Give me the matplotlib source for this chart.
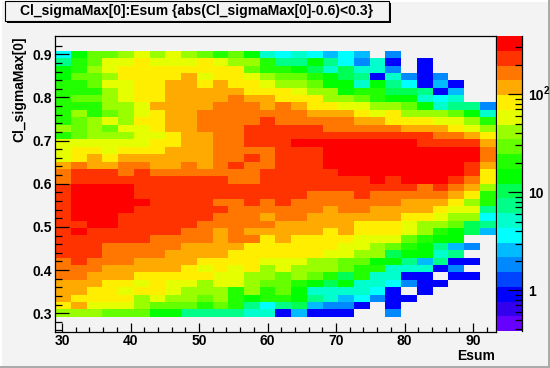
import numpy as np
import matplotlib
matplotlib.use('Agg')
import matplotlib.pyplot as plt
from matplotlib.colors import ListedColormap, BoundaryNorm
from matplotlib.patches import Rectangle
from matplotlib.ticker import FixedLocator, NullFormatter

plt.rcParams['font.family'] = ['Liberation Sans', 'DejaVu Sans']
plt.rcParams['font.weight'] = 'bold'

W, H = 550, 368
BG = '#f3f3f3'

# histogram range (28 x 40 bins, the outer rows stay empty)
x_range = (29.02, 93.28)
y_range = (0.2575, 0.9425)
n_xbins = 28
n_ybins = 40

# palette bands, low to high
band_colors = ['#6600ff', '#3300ee', '#0000ff', '#0044ff', '#0088ff', '#00bbff', '#00ffff',
               '#00ffcc', '#00ff88', '#00ff55', '#00ff00', '#22ff00', '#66ff00', '#99ff00',
               '#e5ff00', '#ffee00', '#ffaa00', '#ff7700', '#ff3300', '#ff0000']
z_min, z_max = 0.384, 393

# bin contents, top row first
counts = [
    [4,15,30,30,42,58,42,58,42,30,21,30,15,5,4,5,4,3,4,3,0,2,0,0,0,0,0,0],
    [8,21,30,58,58,82,58,58,58,82,58,42,42,21,8,8,15,8,4,2,5,1,0,1,0,0,0,0],
    [15,21,42,58,82,82,82,82,82,82,82,82,30,21,21,15,10,5,10,5,5,2,0,1,0,0,0,0],
    [15,30,30,42,82,82,82,82,116,58,82,82,58,42,30,30,21,15,10,8,1,5,2,1,2,0,0,0],
    [21,21,30,58,58,82,82,116,116,82,116,82,82,58,42,42,30,15,15,5,15,8,4,1,3,1,0,0],
    [21,21,21,42,58,82,82,116,116,116,116,116,82,82,82,58,42,42,15,21,21,10,10,8,1,3,0,0],
    [21,30,30,42,58,82,82,116,116,116,116,165,116,116,82,82,82,42,42,30,21,15,15,5,4,5,0,0],
    [21,21,21,42,42,58,116,116,116,116,165,165,165,116,165,116,82,82,58,58,42,42,30,15,5,8,8,2],
    [21,42,21,30,42,58,82,116,116,165,165,165,165,165,165,165,116,116,116,82,58,82,42,42,42,30,15,5],
    [21,30,42,58,42,82,82,116,116,165,165,165,165,232,165,165,165,165,165,116,116,82,82,82,58,58,42,21],
    [42,30,42,30,58,58,82,116,116,165,165,165,232,232,232,232,232,165,165,165,165,165,116,116,116,82,58,42],
    [21,30,42,42,42,58,58,82,116,116,165,165,232,232,232,232,232,232,232,232,232,232,232,232,165,165,116,82],
    [58,58,58,58,58,58,82,82,116,116,165,165,232,232,232,330,330,330,330,330,330,330,330,232,232,232,232,116],
    [58,82,82,58,82,82,82,116,116,116,165,165,165,165,232,232,232,330,330,330,330,330,330,330,330,330,330,165],
    [58,82,116,82,116,116,116,116,116,116,165,165,232,165,232,232,232,330,330,330,330,330,330,330,330,330,330,165],
    [116,165,116,116,165,165,116,116,165,116,165,232,165,165,232,232,232,330,330,330,330,330,330,330,330,330,232,116],
    [165,232,232,232,165,232,165,165,165,165,165,165,165,232,232,232,232,232,330,330,330,330,330,330,330,330,232,82],
    [165,232,232,232,232,232,232,232,232,232,232,165,165,232,232,232,232,232,232,232,330,232,330,330,330,232,165,82],
    [232,330,330,330,330,232,232,232,232,232,232,232,232,232,232,232,232,232,232,232,232,232,232,165,232,165,116,42],
    [232,330,330,330,330,232,232,232,232,232,232,232,232,232,232,232,165,165,165,232,165,165,165,165,165,116,82,21],
    [232,330,330,330,330,330,232,232,232,232,165,165,232,165,232,165,165,165,165,165,165,165,116,116,116,82,42,21],
    [232,330,330,330,330,232,232,232,232,232,232,165,165,165,165,165,165,116,165,165,116,116,116,116,82,58,58,8],
    [232,330,330,330,232,232,232,232,232,232,165,165,165,116,165,165,116,116,116,116,116,116,82,82,58,42,42,4],
    [232,232,330,330,232,232,232,232,232,165,165,165,165,165,116,116,116,116,116,82,82,82,58,42,42,30,10,8],
    [232,330,232,232,232,232,232,232,165,165,116,165,116,116,116,116,116,82,116,82,82,82,58,42,21,15,10,3],
    [232,232,232,232,232,232,165,165,165,165,116,165,165,82,116,82,82,82,82,58,58,58,30,21,15,15,0,0],
    [232,232,232,165,165,165,165,165,116,116,116,116,82,82,82,82,82,82,58,58,42,30,21,15,8,3,2,0],
    [232,232,232,165,165,165,165,116,116,116,116,82,82,82,82,82,82,58,58,42,42,10,15,15,5,8,0,0],
    [165,232,165,165,165,116,116,116,116,82,82,82,82,58,58,58,42,42,30,30,15,15,8,3,8,1,1,0],
    [165,165,165,116,116,116,116,116,82,58,82,58,82,42,58,42,42,42,30,21,21,5,5,5,1,2,0,0],
    [165,165,116,116,116,82,82,82,82,82,58,58,42,42,30,42,30,21,10,21,5,5,1,1,0,1,1,0],
    [116,116,116,82,82,58,82,58,58,42,58,58,42,30,30,21,15,10,15,5,5,4,2,1,1,0,0,0],
    [116,116,82,82,58,82,82,58,42,42,42,21,42,21,30,15,5,5,5,5,4,1,0,1,0,0,0,0],
    [116,82,82,82,82,42,58,42,42,30,42,21,15,21,21,15,8,5,3,4,2,1,1,0,0,0,0,0],
    [82,116,58,58,58,42,30,30,30,21,30,21,8,4,8,10,3,2,2,1,0,1,0,0,0,0,0,0],
    [42,42,42,30,30,30,15,15,8,8,8,8,5,5,1,3,1,1,1,0,0,2,0,0,0,0,0,0],
]

x_ticks = [30, 40, 50, 60, 70, 80, 90]
y_ticks = [0.3, 0.4, 0.5, 0.6, 0.7, 0.8, 0.9]
title = 'Cl_sigmaMax[0]:Esum {abs(Cl_sigmaMax[0]-0.6)<0.3}'


def box(l, t, r, b):
    # pixel box (from the top left) to figure fractions
    return [l / W, 1 - b / H, (r - l) / W, (b - t) / H]


fig = plt.figure(figsize=(W / 100, H / 100), dpi=100, facecolor=BG)

# canvas bevel: light on top and left, grey on right and bottom
fig.add_artist(Rectangle((0, 1 - 2 / H), 1, 2 / H, transform=fig.transFigure, color='white', lw=0))
fig.add_artist(Rectangle((0, 0), 2 / W, 1, transform=fig.transFigure, color='white', lw=0))
fig.add_artist(Rectangle((548 / W, 0), 2 / W, 1, transform=fig.transFigure, color='#aaaaaa', lw=0))
fig.add_artist(Rectangle((0, 0), 1, 2 / H, transform=fig.transFigure, color='#aaaaaa', lw=0))

ax = fig.add_axes(box(55.3, 36, 495.5, 331.5), facecolor=BG)
x_edges = np.linspace(x_range[0], x_range[1], n_xbins + 1)
y_edges = np.linspace(y_range[0], y_range[1], n_ybins + 1)[2:39]
z = np.ma.masked_equal(np.array(counts[::-1], dtype=float), 0)
cmap = ListedColormap(band_colors)
levels = np.geomspace(z_min, z_max, len(band_colors) + 1)
norm = BoundaryNorm(levels, cmap.N)
ax.pcolormesh(x_edges, y_edges, z, cmap=cmap, norm=norm)
ax.set_xlim(x_range)
ax.set_ylim(y_range)
ax.set_xticks(x_ticks)
ax.set_xticklabels([str(v) for v in x_ticks])
ax.set_yticks(y_ticks)
ax.set_yticklabels(['%.1f' % v for v in y_ticks])
ax.set_xticks(np.arange(30, 94, 2), minor=True)
ax.set_yticks(np.arange(0.26, 0.94, 0.02), minor=True)
ax.tick_params(axis='x', which='major', direction='in', length=6.5, width=0.9, labelsize=10, pad=1.5)
ax.tick_params(axis='x', which='minor', direction='in', length=3.3, width=0.9)
ax.tick_params(axis='y', which='major', direction='in', length=10, width=0.9, labelsize=10, pad=2.5)
ax.tick_params(axis='y', which='minor', direction='in', length=5, width=0.9)
for s in ax.spines.values():
    s.set_linewidth(0.9)

fig.text(495 / W, 1 - 355.5 / H, 'Esum', ha='right', va='center', fontsize=10)
fig.text(19 / W, 1 - 36 / H, 'Cl_sigmaMax[0]', rotation=90, ha='center', va='top', fontsize=10)

# palette
cax = fig.add_axes(box(497, 36, 522.3, 331), facecolor=BG)
mids = np.sqrt(levels[:-1] * levels[1:])
cax.pcolormesh([0, 1], levels, mids[:, None], cmap=cmap, norm=norm)
cax.set_yscale('log')
cax.set_ylim(z_min, z_max)
cax.set_xlim(0, 1)
cax.set_xticks([])
cax.yaxis.tick_right()
cax.yaxis.set_major_locator(FixedLocator([1, 10, 100]))
cax.yaxis.set_minor_locator(FixedLocator([0.4, 0.5, 0.6, 0.7, 0.8, 0.9, 2, 3, 4, 5, 6, 7, 8, 9,
                                          20, 30, 40, 50, 60, 70, 80, 90, 200, 300]))
cax.yaxis.set_minor_formatter(NullFormatter())
cax.set_yticklabels(['1', '10', '10'])
cax.tick_params(axis='y', which='major', direction='in', length=10, width=0.9, labelsize=10, pad=4.5)
cax.tick_params(axis='y', which='minor', direction='in', length=5, width=0.9)
for side in ['left', 'top', 'bottom']:
    cax.spines[side].set_visible(False)
cax.spines['right'].set_linewidth(0.9)
# exponent of the 10^2 label
fig.text(543.2 / W, 1 - 91 / H, '2', ha='left', va='center', fontsize=7)

# title box with its shadow
fig.add_artist(Rectangle((7 / W, 1 - 23 / H), 384 / W, 20 / H, transform=fig.transFigure,
                         facecolor='black', lw=0))
fig.add_artist(Rectangle((5 / W, 1 - 21 / H), 384 / W, 20 / H, transform=fig.transFigure,
                         facecolor=BG, edgecolor='black', lw=0.8))
fig.text(20 / W, 1 - 11.5 / H, title, ha='left', va='center', fontsize=10)

fig.savefig('out.png', dpi=100, facecolor=BG)
